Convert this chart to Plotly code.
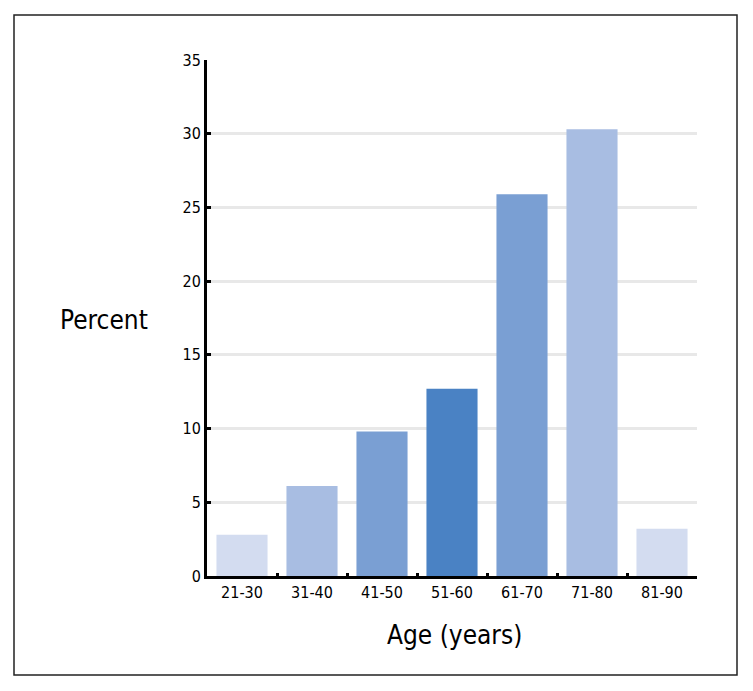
import plotly.graph_objects as go

categories = ["21-30", "31-40", "41-50", "51-60", "61-70", "71-80", "81-90"]
percent = [2.8, 6.1, 9.8, 12.7, 25.9, 30.3, 3.2]
bar_colors = ["#d3dcf0", "#a8bde2", "#7a9fd3", "#4a82c4", "#7a9fd3", "#a8bde2", "#d3dcf0"]

FONT = "DejaVu Sans Condensed, Liberation Sans Narrow, sans-serif"

fig = go.Figure(go.Bar(x=categories, y=percent, marker=dict(color=bar_colors, line=dict(width=0)),
                       width=0.73))

OFF = 8  # page body margin
W, H = 753 - OFF, 691 - OFF
L, T = 207 - OFF, 60 - OFF
R = W - (697 - OFF)
B = H - (576 - OFF)
pw, ph = W - L - R, H - T - B


def px_x(x):
    return (x - OFF - L) / pw


def px_y(y):
    return (H - B - (y - OFF)) / ph


fig.update_layout(
    width=W, height=H,
    margin=dict(l=L, r=R, t=T, b=B),
    plot_bgcolor="white", paper_bgcolor="white",
    showlegend=False,
    font=dict(family=FONT, color="black", size=16),
    xaxis=dict(
        showline=True, linecolor="black", linewidth=3,
        ticks="inside", tickson="boundaries", ticklen=3, tickwidth=3, tickcolor="black",
        tickfont=dict(size=16, family=FONT),
        showgrid=False,
    ),
    yaxis=dict(
        range=[0, 35], dtick=5,
        showline=True, linecolor="black", linewidth=3,
        ticks="inside", ticklen=4, tickwidth=3, tickcolor="black",
        showgrid=True, gridcolor="#e8e8e8", gridwidth=3,
        zeroline=False,
        tickfont=dict(size=16, family=FONT),
    ),
    shapes=[dict(type="rect", xref="paper", yref="paper",
                 x0=px_x(14), x1=px_x(737),
                 y0=px_y(675), y1=px_y(15),
                 line=dict(color="#222", width=1.5), fillcolor="rgba(0,0,0,0)", layer="below")],
    annotations=[
        dict(text="Percent", xref="paper", yref="paper",
             x=px_x(104), y=px_y(320), showarrow=False,
             font=dict(size=26, family=FONT), xanchor="center", yanchor="middle"),
        dict(text="Age (years)", xref="paper", yref="paper",
             x=px_x(454), y=px_y(635), showarrow=False,
             font=dict(size=26, family=FONT), xanchor="center", yanchor="middle"),
    ],
)

fig.write_html("out.html")
